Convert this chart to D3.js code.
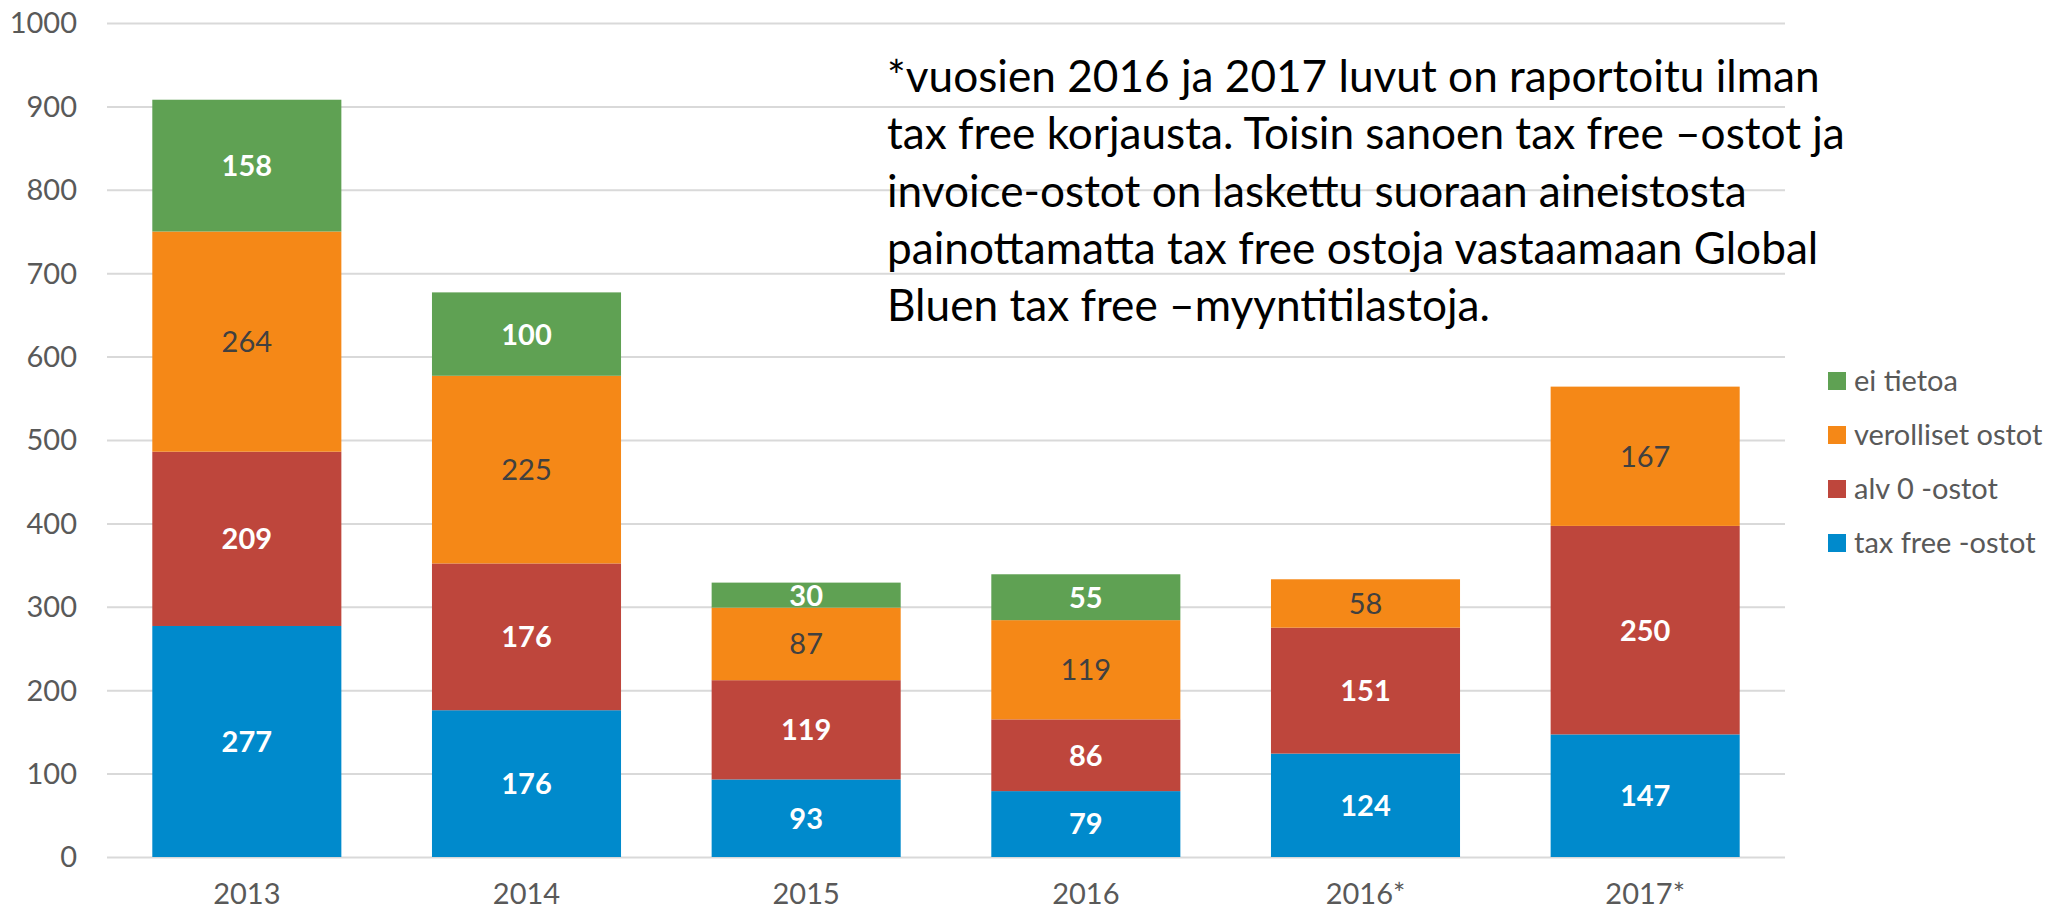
<!DOCTYPE html>
<html>
<head>
	<meta charset="utf-8">
	<script src="https://d3js.org/d3.v7.min.js"></script>
	<style type="text/css">
		body {
			margin: 0;
			background: #fff;
		}
		text {
			font-family: Lato, "Open Sans", sans-serif;
		}
		.grid line {
			stroke: #d9d9d9;
			stroke-width: 2;
		}
		.grid path {
			display: none;
		}
	</style>
</head>
<body>

<script>
    // data
    var years = ["2013", "2014", "2015", "2016", "2016*", "2017*"];
    var seriesNames = ["tax free -ostot", "alv 0 -ostot", "verolliset ostot", "ei tietoa"];
    var taxFree = [277, 176, 93, 79, 124, 147];
    var alv0 = [209, 176, 119, 86, 151, 250];
    var verolliset = [264, 225, 87, 119, 58, 167];
    var eiTietoa = [158, 100, 30, 55, 0, 0];
    var yTicks = [0, 100, 200, 300, 400, 500, 600, 700, 800, 900, 1000];
    var noteLines = [
        "*vuosien 2016 ja 2017 luvut on raportoitu ilman",
        "tax free korjausta. Toisin sanoen tax free \u2013ostot ja",
        "invoice-ostot on laskettu suoraan aineistosta",
        "painottamatta tax free ostoja vastaamaan Global",
        "Bluen tax free \u2013myyntitilastoja."
    ];

    var colors = ["#008acc", "#be463c", "#f58817", "#5fa153"];
    var labelColors = ["#fff", "#fff", "#404040", "#fff"];
    var labelWeights = ["bold", "bold", "normal", "bold"];

    var width = 2051;
    var height = 912;
    var plot = {left: 107, right: 1785, top: 23, bottom: 857};

    var svg = d3.select("body")
        .append("svg")
        .attr("width", width)
        .attr("height", height);

    var x = d3.scaleBand()
        .domain(years)
        .range([plot.left, plot.right])
        .paddingInner(0.324)
        .paddingOuter(0.162);

    var y = d3.scaleLinear()
        .domain([0, 1000])
        .range([plot.bottom, plot.top]);

    // gridlines
    svg.append("g")
        .attr("class", "grid")
        .attr("transform", "translate(" + plot.left + ",0)")
        .call(d3.axisLeft(y).tickValues(yTicks).tickSize(-(plot.right - plot.left)).tickFormat(""));

    // y tick labels
    svg.append("g").selectAll("text")
        .data(yTicks)
        .enter()
        .append("text")
        .attr("x", 77)
        .attr("y", function(d) { return y(d); })
        .attr("dy", "0.36em")
        .attr("text-anchor", "end")
        .style("font-size", "29px")
        .style("fill", "#595959")
        .text(function(d) { return d; });

    // stack the series
    var rows = years.map(function(yr, i) {
        return {year: yr, s0: taxFree[i], s1: alv0[i], s2: verolliset[i], s3: eiTietoa[i]};
    });
    var stack = d3.stack().keys(["s0", "s1", "s2", "s3"]);
    var layers = stack(rows);

    var layer = svg.selectAll("g.layer")
        .data(layers)
        .enter()
        .append("g")
        .attr("class", "layer")
        .style("fill", function(d, i) { return colors[i]; });

    layer.selectAll("rect")
        .data(function(d) { return d; })
        .enter()
        .append("rect")
        .attr("x", function(d) { return x(d.data.year); })
        .attr("y", function(d) { return y(d[1]); })
        .attr("width", x.bandwidth())
        .attr("height", function(d) { return y(d[0]) - y(d[1]); });

    // value labels
    layers.forEach(function(ly, i) {
        svg.append("g").selectAll("text")
            .data(ly.filter(function(d) { return d[1] - d[0] > 0; }))
            .enter()
            .append("text")
            .attr("x", function(d) { return x(d.data.year) + x.bandwidth() / 2; })
            .attr("y", function(d) { return (y(d[0]) + y(d[1])) / 2; })
            .attr("dy", "0.36em")
            .attr("text-anchor", "middle")
            .style("font-size", "29px")
            .style("font-weight", labelWeights[i])
            .style("fill", labelColors[i])
            .text(function(d) { return d[1] - d[0]; });
    });

    // category labels
    svg.append("g").selectAll("text")
        .data(years)
        .enter()
        .append("text")
        .attr("x", function(d) { return x(d) + x.bandwidth() / 2; })
        .attr("y", 904)
        .attr("text-anchor", "middle")
        .style("font-size", "29px")
        .style("fill", "#595959")
        .text(function(d) { return d; });

    // legend (top item is ei tietoa)
    var legendOrder = [3, 2, 1, 0];
    var legend = svg.append("g").selectAll("g")
        .data(legendOrder)
        .enter()
        .append("g")
        .attr("transform", function(d, i) { return "translate(1828," + (381 + i * 54) + ")"; });

    legend.append("rect")
        .attr("x", 0)
        .attr("y", -9)
        .attr("width", 18)
        .attr("height", 18)
        .style("fill", function(d) { return colors[d]; });

    legend.append("text")
        .attr("x", 26)
        .attr("y", 0)
        .attr("dy", "0.36em")
        .style("font-size", "29px")
        .style("fill", "#595959")
        .text(function(d) { return seriesNames[d]; });

    // note text, sized so the first line spans like the original
    var note = svg.append("g");
    var noteText = note.selectAll("text")
        .data(noteLines)
        .enter()
        .append("text")
        .attr("x", 887)
        .attr("y", function(d, i) { return 92 + i * 57.3; })
        .style("font-size", "40px")
        .style("fill", "#000")
        .text(function(d) { return d; });

    var w0 = noteText.node().getComputedTextLength();
    noteText.style("font-size", (40 * 933 / w0) + "px");
</script>
</body>
</html>
